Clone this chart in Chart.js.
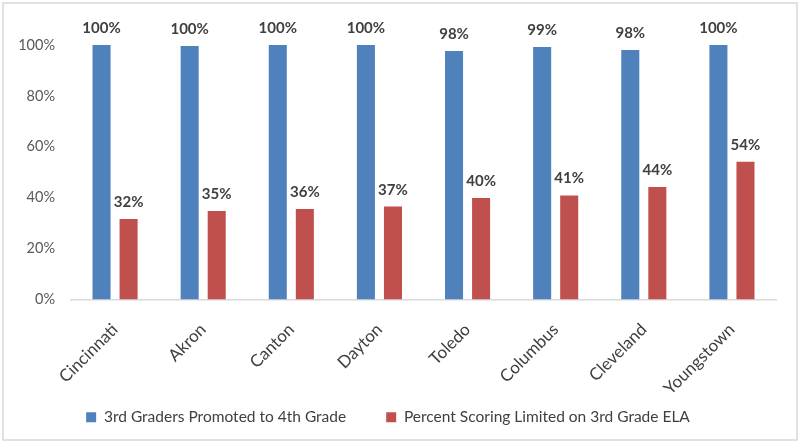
<!DOCTYPE html>
<html>
<head>
<meta charset="utf-8">
<script src="https://cdn.jsdelivr.net/npm/chart.js@4"></script>
<style>
html,body{margin:0;padding:0;background:#fff;}
#wrap{position:absolute;left:0;top:0;width:800px;height:443px;}
</style>
</head>
<body>
<div id="wrap"><canvas id="c" width="800" height="443"></canvas></div>
<script>
const categories = ["Cincinnati","Akron","Canton","Dayton","Toledo","Columbus","Cleveland","Youngstown"];
const promoted = [100, 99.6, 100, 100, 97.6, 99.2, 98.0, 100];
const limited = [31.6, 34.8, 35.6, 36.5, 39.9, 40.9, 44.2, 54.1];
const seriesNames = ["3rd Graders Promoted to 4th Grade", "Percent Scoring Limited on 3rd Grade ELA"];
const yTicks = [0, 20, 40, 60, 80, 100];

const FONT = "Lato, 'Open Sans', sans-serif";

const borderPlugin = {
  id: 'frame',
  beforeDraw(chart) {
    const ctx = chart.ctx;
    ctx.save();
    ctx.fillStyle = '#fff';
    ctx.fillRect(0, 0, chart.width, chart.height);
    ctx.strokeStyle = '#d9d9d9';
    ctx.lineWidth = 1.5;
    ctx.strokeRect(3, 3, chart.width - 6, chart.height - 6);
    ctx.restore();
  }
};

const labelPlugin = {
  id: 'valueLabels',
  afterDatasetsDraw(chart) {
    const ctx = chart.ctx;
    ctx.save();
    ctx.font = "bold 15px " + FONT;
    ctx.fillStyle = '#404040';
    ctx.textAlign = 'center';
    ctx.textBaseline = 'alphabetic';
    chart.data.datasets.forEach((ds, di) => {
      const meta = chart.getDatasetMeta(di);
      meta.data.forEach((bar, i) => {
        const v = ds.data[i];
        ctx.fillText(Math.round(v) + '%', bar.x, bar.y - 12);
      });
    });
    ctx.restore();
  }
};

new Chart(document.getElementById('c'), {
  type: 'bar',
  data: {
    labels: categories,
    datasets: [
      { label: seriesNames[0], data: promoted, backgroundColor: '#4f81bd', categoryPercentage: 0.614, barPercentage: 0.667 },
      { label: seriesNames[1], data: limited, backgroundColor: '#c0504d', categoryPercentage: 0.614, barPercentage: 0.667 }
    ]
  },
  options: {
    responsive: false,
    animation: false,
    devicePixelRatio: 1,
    layout: { padding: { top: 45, right: 24, left: 0, bottom: 8 } },
    plugins: {
      tooltip: { enabled: false },
      legend: {
        position: 'bottom',
        labels: {
          boxWidth: 10, boxHeight: 10, padding: 40,
          color: '#404040',
          font: { family: FONT, size: 15.5 }
        }
      }
    },
    scales: {
      x: {
        grid: { display: false, drawTicks: false },
        border: { display: true, color: '#d9d9d9', width: 1.5 },
        ticks: {
          color: '#404040',
          font: { family: FONT, size: 17 },
          minRotation: 45, maxRotation: 45, padding: 20
        },
        afterFit(scale) {
          scale.height = 70;
          scale._computeLabelArea = () => undefined;
        }
      },
      y: {
        min: 0, max: 100,
        grid: { display: false, drawTicks: false },
        border: { display: false },
        afterBuildTicks(scale) { scale.ticks = yTicks.map(v => ({ value: v })); },
        ticks: {
          color: '#595959',
          font: { family: FONT, size: 14.5 },
          padding: 16,
          callback: v => v + '%'
        },
        afterFit(scale) { scale.width = 71; }
      }
    }
  },
  plugins: [borderPlugin, labelPlugin]
});
</script>
</body>
</html>
